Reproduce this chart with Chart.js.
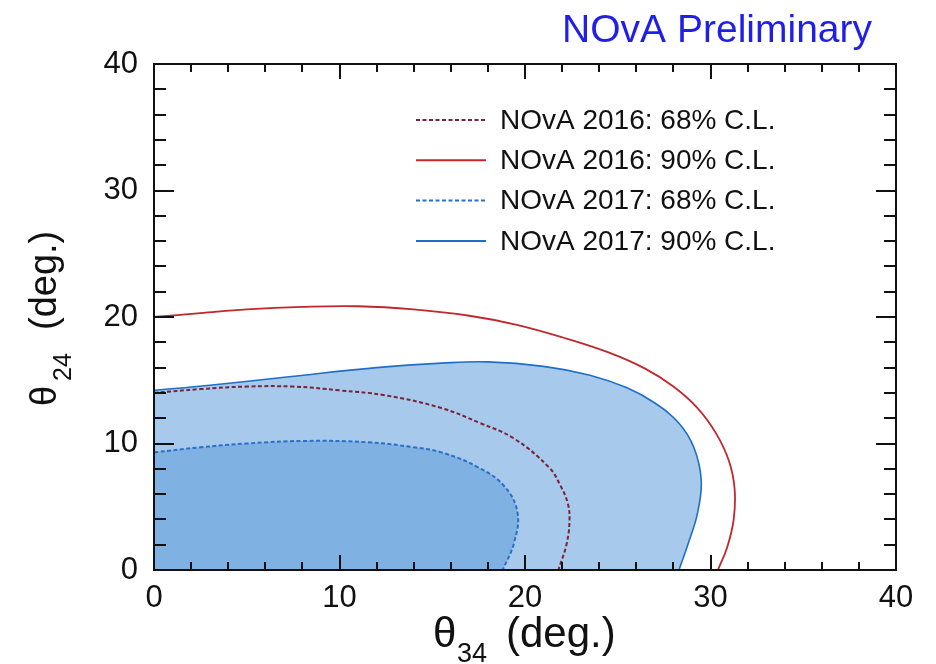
<!DOCTYPE html>
<html>
<head>
<meta charset="utf-8">
<title>NOvA sterile contours</title>
<script src="https://cdn.jsdelivr.net/npm/chart.js@4.4.1/dist/chart.umd.min.js"></script>
<style>
  html, body { margin: 0; padding: 0; background: #fff; }
  #wrap { width: 936px; height: 664px; }
</style>
</head>
<body>
<div id="wrap"><canvas id="contours" width="936" height="664"></canvas></div>
<script>
/* ── DATA (θ34, θ24 in degrees) ───────────── */
const N16_68_X = [0, 2.5, 5, 7.5, 10, 12.5, 15.5, 17.6, 19.4, 21.3, 21.9, 22.3, 22.4, 22.25, 21.8];
const N16_68_Y = [14.0, 14.3, 14.5, 14.5, 14.2, 13.8, 12.8, 11.6, 10.4, 8.1, 6.7, 5.3, 4.0, 2.1, 0];

const N16_90_X = [0, 2.5, 5, 8, 11, 14, 17, 19.5, 22, 24.5, 26.5, 28, 29.3, 30.3, 31.0, 31.3, 31.25, 30.9, 30.4];
const N16_90_Y = [20.0, 20.3, 20.6, 20.8, 20.85, 20.6, 20.1, 19.4, 18.4, 17.2, 15.9, 14.5, 12.8, 10.8, 8.6, 6.4, 4.0, 1.8, 0];

const N17_68_X = [0, 2.5, 5, 8, 11.5, 14, 15.5, 17.5, 18.9, 19.6, 19.4, 18.8];
const N17_68_Y = [9.3, 9.7, 10.0, 10.2, 10.1, 9.7, 9.3, 8.1, 6.6, 4.5, 2.1, 0];

const N17_90_X = [0, 3, 7.4, 12, 15.5, 18, 21, 23.5, 25.5, 27, 28.3, 29.1, 29.5, 29.3, 28.8, 28.3];
const N17_90_Y = [14.2, 14.6, 15.3, 16.0, 16.35, 16.45, 16.1, 15.4, 14.4, 13.2, 11.6, 9.7, 7.1, 4.5, 2.1, 0];

const LABELS = [
  'NOvA 2016: 68% C.L.',
  'NOvA 2016: 90% C.L.',
  'NOvA 2017: 68% C.L.',
  'NOvA 2017: 90% C.L.',
];
const AXIS_MIN = 0, AXIS_MAX = 40, AXIS_STEP = 10, MINOR_STEP = 2;

const FONT = '"Liberation Sans", Arial, Helvetica, sans-serif';
const DOTS = [4, 2.5];

function pts(xs, ys) { return xs.map((x, i) => ({ x, y: ys[i] })); }

/* ── PLUGINS ─────────────────────────────── */
// shaded regions: contour path closed down to the origin corner
const contourFill = {
  id: 'contourFill',
  beforeDatasetsDraw(chart) {
    const { ctx, chartArea: a, scales } = chart;
    const ds = chart.data.datasets;
    for (let i = ds.length - 1; i >= 0; i--) {
      if (!ds[i].areaColor) continue;
      const line = chart.getDatasetMeta(i).dataset;
      line.updateControlPoints(a, 'x');
      ctx.save();
      ctx.beginPath();
      ctx.rect(a.left, a.top, a.right - a.left, a.bottom - a.top);
      ctx.clip();
      ctx.beginPath();
      line.path(ctx);
      ctx.lineTo(scales.x.getPixelForValue(0), scales.y.getPixelForValue(0));
      ctx.closePath();
      ctx.fillStyle = ds[i].areaColor;
      ctx.fill();
      ctx.restore();
    }
  }
};

// ROOT style frame with inward ticks on all four sides
const frameTicks = {
  id: 'frameTicks',
  afterDatasetsDraw(chart) {
    const { ctx, chartArea: a, scales: { x, y } } = chart;
    ctx.save();
    ctx.strokeStyle = '#111';
    ctx.lineWidth = 2;
    ctx.beginPath();
    for (let v = AXIS_MIN + MINOR_STEP; v < AXIS_MAX; v += MINOR_STEP) {
      const major = v % AXIS_STEP === 0;
      const px = Math.round(x.getPixelForValue(v));
      const py = Math.round(y.getPixelForValue(v));
      const lx = major ? 15 : 8, ly = major ? 20 : 12;
      ctx.moveTo(px, a.bottom); ctx.lineTo(px, a.bottom - lx);
      ctx.moveTo(px, a.top);    ctx.lineTo(px, a.top + lx);
      ctx.moveTo(a.left, py);   ctx.lineTo(a.left + ly, py);
      ctx.moveTo(a.right, py);  ctx.lineTo(a.right - ly, py);
    }
    ctx.stroke();
    ctx.strokeRect(a.left, a.top, a.right - a.left, a.bottom - a.top);
    ctx.restore();
  },
  afterDraw(chart) {
    const { ctx } = chart;
    const ds = chart.data.datasets.filter(d => d.label);

    ctx.save();
    // legend
    ctx.textBaseline = 'middle';
    ctx.textAlign = 'left';
    ctx.font = '28px ' + FONT;
    ds.forEach((d, i) => {
      const cy = 120 + i * 40.3;
      ctx.beginPath();
      ctx.setLineDash(d.borderDash || []);
      ctx.strokeStyle = d.borderColor;
      ctx.lineWidth = 2;
      ctx.moveTo(416, cy); ctx.lineTo(486, cy);
      ctx.stroke();
      ctx.setLineDash([]);
      ctx.fillStyle = '#111';
      ctx.fillText(d.label, 500, cy + 1);
    });

    // experiment tag
    ctx.textBaseline = 'alphabetic';
    ctx.textAlign = 'right';
    ctx.fillStyle = '#1f1fe6';
    ctx.font = '39px ' + FONT;
    ctx.fillText('NOvA Preliminary', 872, 42);

    // x axis title θ34 (deg.)
    ctx.textAlign = 'left';
    ctx.fillStyle = '#111';
    ctx.font = '42px ' + FONT;
    ctx.fillText('θ', 433, 647);
    ctx.font = '27px ' + FONT;
    ctx.fillText('34', 457, 662);
    ctx.font = '42px ' + FONT;
    ctx.fillText('(deg.)', 506, 647);

    // y axis title θ24 (deg.)
    ctx.translate(56, 406);
    ctx.rotate(-Math.PI / 2);
    ctx.font = '36px ' + FONT;
    ctx.fillText('θ', 0, 0);
    ctx.font = '25px ' + FONT;
    ctx.fillText('24', 25, 15);
    ctx.font = '38px ' + FONT;
    ctx.fillText('(deg.)', 76, 0);
    ctx.restore();
  }
};

/* ── CHART ───────────────────────────────── */
const tickFont = { family: FONT, size: 31 };

new Chart(document.getElementById('contours'), {
  type: 'scatter',
  data: {
    datasets: [
      {
        label: LABELS[0], data: pts(N16_68_X, N16_68_Y),
        borderColor: '#7a2236', borderWidth: 2, borderDash: DOTS
      },
      {
        label: LABELS[1], data: pts(N16_90_X, N16_90_Y),
        borderColor: '#c0282d', borderWidth: 1.8
      },
      {
        label: LABELS[2], data: pts(N17_68_X, N17_68_Y),
        borderColor: '#2b6fc4', borderWidth: 2, borderDash: DOTS,
        areaColor: '#80b1e3'
      },
      {
        label: LABELS[3], data: pts(N17_90_X, N17_90_Y),
        borderColor: '#1f6fc8', borderWidth: 1.6,
        areaColor: '#a7c9ec'
      },
    ].map(d => Object.assign({ showLine: true, pointRadius: 0, tension: 0.4, fill: false }, d))
  },
  options: {
    responsive: false,
    animation: false,
    layout: { padding: { left: 0, top: 64, right: 40, bottom: 0 } },
    plugins: { legend: { display: false }, tooltip: { enabled: false } },
    scales: {
      x: {
        type: 'linear', min: AXIS_MIN, max: AXIS_MAX,
        grid: { display: false }, border: { display: false },
        ticks: { stepSize: AXIS_STEP, color: '#111', font: tickFont, padding: 2, maxRotation: 0 },
        afterFit(s) { s.height = 94; }
      },
      y: {
        type: 'linear', min: AXIS_MIN, max: AXIS_MAX,
        grid: { display: false }, border: { display: false },
        ticks: { stepSize: AXIS_STEP, color: '#111', font: tickFont, padding: 8 },
        afterFit(s) { s.width = 154; }
      }
    }
  },
  plugins: [contourFill, frameTicks]
});
</script>
</body>
</html>
